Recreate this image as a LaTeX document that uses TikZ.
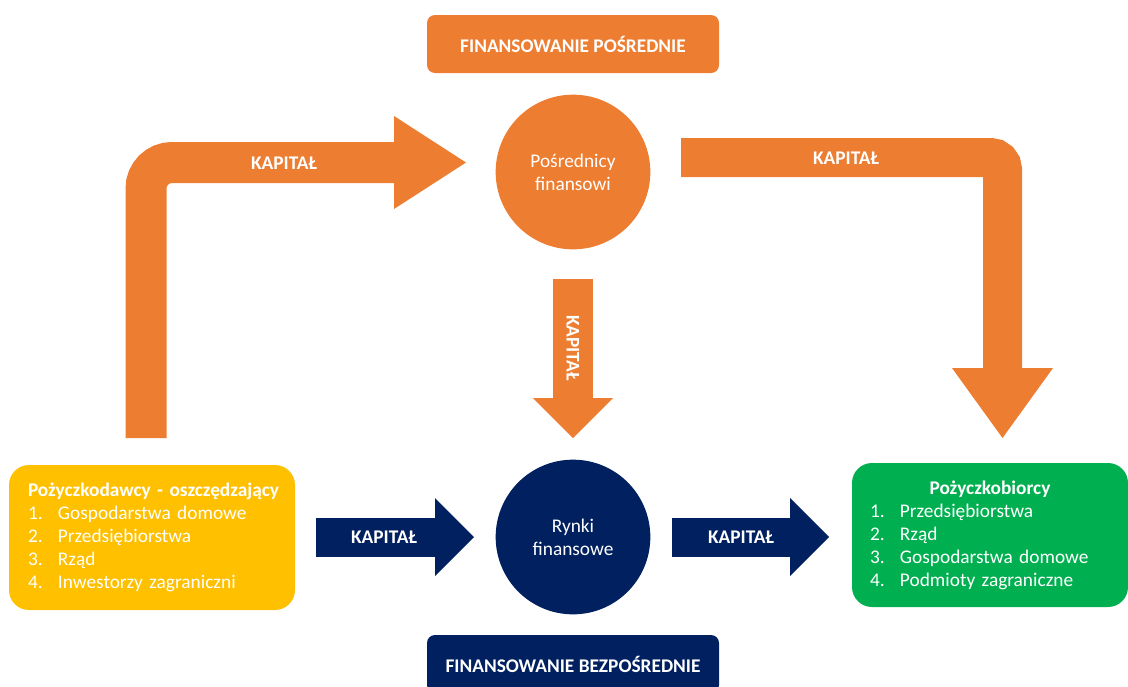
\documentclass[tikz,border=0pt]{standalone}
\usepackage{fontspec}
\setmainfont{Carlito}
\usepackage{tikz}
\usetikzlibrary{arrows.meta}
\usetikzlibrary{positioning}

\definecolor{kapitalorange}{HTML}{ED7D31}
\definecolor{kapitalnavy}{HTML}{002060}
\definecolor{lendergold}{HTML}{FFC000}
\definecolor{borrowergreen}{HTML}{00B050}

\tikzset{
  whitetxt/.style={text=white, font=\fontsize{14.5}{17.25}\selectfont},
  boldtxt/.style={text=white, font=\bfseries\fontsize{14.5}{17.25}\selectfont},
  headbox/.style={boldtxt, rounded corners=6pt, minimum width=219pt, minimum height=43.5pt},
  hubcircle/.style={whitetxt, circle, minimum size=116pt, align=center},
  sidebox/.style={whitetxt, rounded corners=15pt, align=left},
  orangeflow/.style={draw=kapitalorange, line width=#1},
  navyflow/.style={draw=kapitalnavy, line width=29.25pt,
    -{Triangle[length=29.25pt,width=58.5pt,line width=0pt]}},
}

\begin{document}
\begin{tikzpicture}[x=0.75pt,y=-0.75pt]
    \useasboundingbox (0,0) rectangle (1128,686);

    \node[headbox, fill=kapitalorange] (indirect) at (573,44) {FINANSOWANIE POŚREDNIE};
    \node[headbox, fill=kapitalnavy] (direct) at (573,664) {FINANSOWANIE BEZPOŚREDNIE};

    \node[hubcircle, fill=kapitalorange] (intermediaries) at (573,172) {Pośrednicy\\finansowi};
    \node[hubcircle, fill=kapitalnavy] (markets) at (573,537) {Rynki\\finansowe};

    \node[sidebox, fill=lendergold, text width=186pt, inner xsep=14.25pt,
          minimum height=108.75pt] (lenders) at (152,537.5)
        {\mbox{\bfseries Pożyczkodawcy - oszczędzający}\\
         \makebox[22.5pt][l]{1.}Gospodarstwa domowe\\
         \makebox[22.5pt][l]{2.}Przedsiębiorstwa\\
         \makebox[22.5pt][l]{3.}Rząd\\
         \makebox[22.5pt][l]{4.}Inwestorzy zagraniczni};
    \node[sidebox, fill=borrowergreen, text width=180pt, inner xsep=13.5pt,
          minimum height=108pt] (borrowers) at (990,535)
        {\makebox[\hsize]{\bfseries Pożyczkobiorcy}\\
         \makebox[22.5pt][l]{1.}Przedsiębiorstwa\\
         \makebox[22.5pt][l]{2.}Rząd\\
         \makebox[22.5pt][l]{3.}Gospodarstwa domowe\\
         \makebox[22.5pt][l]{4.}Podmioty zagraniczne};

    % arrow ends
    \coordinate (upstart) at (146,438);
    \coordinate (uptip) at (466,162.5);
    \coordinate (downstart) at (681,157.5);
    \coordinate (downtip) at (1002.5,438);
    \coordinate (midstart) at (573,279);
    \coordinate (midtip) at (573,438);
    \coordinate (lefttail) at (316,537);
    \coordinate (lefttip) at (474,537);
    \coordinate (righttail) at (672,537);
    \coordinate (righttip) at (829,537);

    \draw[orangeflow=30.75pt, rounded corners=19.5pt,
          -{Triangle[length=54pt,width=69.75pt,line width=0pt]}] (upstart) |- (uptip);
    \draw[orangeflow=29.25pt, rounded corners=9pt,
          -{Triangle[length=52.5pt,width=75.75pt,line width=0pt]}] (downstart) -| (downtip);
    \draw[orangeflow=30pt,
          -{Triangle[length=30pt,width=60pt,line width=0pt]}] (midstart) -- (midtip);
    \draw[navyflow] (lefttail) -- (lefttip);
    \draw[navyflow] (righttail) -- (righttip);

    \node[boldtxt] (kapital1) at (284,163) {KAPITAŁ};
    \node[boldtxt] (kapital2) at (846,158) {KAPITAŁ};
    \node[boldtxt, rotate=-90] (kapital3) at (573,348) {KAPITAŁ};
    \node[boldtxt] (kapital4) at (384,537) {KAPITAŁ};
    \node[boldtxt] (kapital5) at (741,537) {KAPITAŁ};
\end{tikzpicture}
\end{document}
